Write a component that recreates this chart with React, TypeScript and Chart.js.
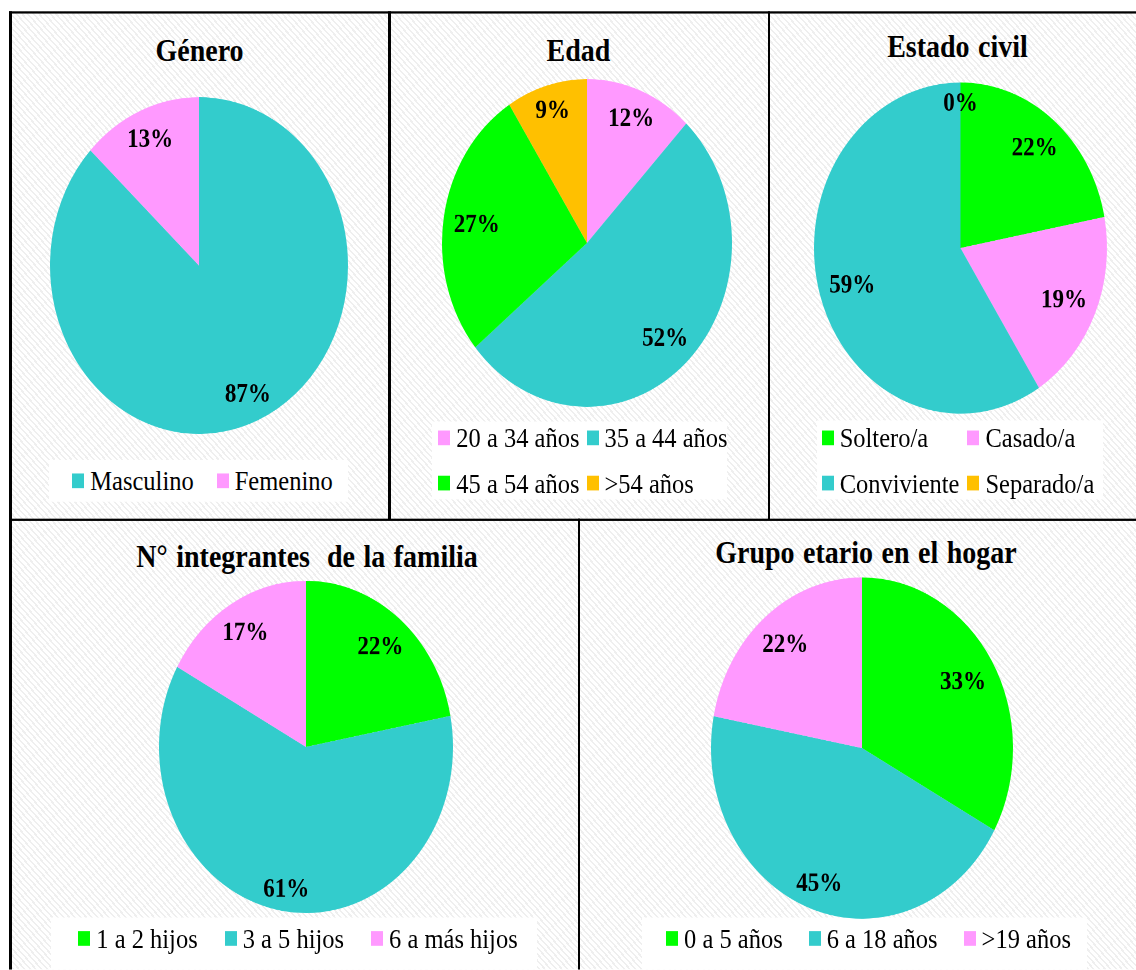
import { useEffect, useRef } from 'react'
import { Chart, PieController, ArcElement } from 'chart.js'

Chart.register(PieController, ArcElement)

// the whole figure is stretched vertically, like the source picture
const STRETCH = 1.13
const FONT = '"Liberation Serif", "Times New Roman", serif'
const PCT_SIZE = 23
const PAD = 6

const CYAN = '#33CCCC'
const PINK = '#FF99FF'
const GREEN = '#00FF00'
const ORANGE = '#FFC000'

const GENERO_LABELS = ['Masculino', 'Femenino']
const GENERO_VALUES = [87, 13]
const GENERO_COLORS = [CYAN, PINK]

const EDAD_LABELS = ['20 a 34 años', '35 a 44 años', '45 a 54 años', '>54 años']
const EDAD_VALUES = [12, 52, 27, 9]
const EDAD_COLORS = [PINK, CYAN, GREEN, ORANGE]

const CIVIL_LABELS = ['Soltero/a', 'Casado/a', 'Conviviente', 'Separado/a']
const CIVIL_VALUES = [22, 19, 59, 0]
const CIVIL_COLORS = [GREEN, PINK, CYAN, ORANGE]

const FAMILIA_LABELS = ['1 a 2 hijos', '3 a 5 hijos', '6 a más hijos']
const FAMILIA_VALUES = [22, 61, 17]
const FAMILIA_COLORS = [GREEN, CYAN, PINK]

const HOGAR_LABELS = ['0 a 5 años', '6 a 18 años', '>19 años']
const HOGAR_VALUES = [33, 45, 22]
const HOGAR_COLORS = [GREEN, CYAN, PINK]

/** Percent labels placed inside the outer edge of each slice. */
const pctLabels = {
  id: 'pctLabels',
  afterDatasetsDraw(chart: any) {
    const { ctx } = chart
    const meta = chart.getDatasetMeta(0)
    const values = chart.data.datasets[0].data as number[]
    ctx.save()
    ctx.font = `bold ${PCT_SIZE}px ${FONT}`
    ctx.fillStyle = '#000'
    ctx.textAlign = 'center'
    ctx.textBaseline = 'alphabetic'
    meta.data.forEach((arc: any, i: number) => {
      const { x, y, startAngle, endAngle, outerRadius } = arc.getProps(
        ['x', 'y', 'startAngle', 'endAngle', 'outerRadius'],
        true,
      )
      const a = (startAngle + endAngle) / 2
      const text = `${values[i]}%`
      const hw = ctx.measureText(text).width / 2
      const hh = PCT_SIZE * 0.34
      const dist = outerRadius * 0.935 - Math.abs(Math.cos(a)) * hw - Math.abs(Math.sin(a)) * hh
      ctx.fillText(text, x + Math.cos(a) * dist, y + Math.sin(a) * dist + hh)
    })
    ctx.restore()
  },
}

interface PieProps {
  labels: string[]
  values: number[]
  colors: string[]
  cx: number
  cy: number
  d: number
}

function PieCanvas({ labels, values, colors, cx, cy, d }: PieProps) {
  const canvasRef = useRef<HTMLCanvasElement>(null)

  useEffect(() => {
    const el = canvasRef.current
    if (!el) return
    const chart = new Chart(el, {
      type: 'pie',
      data: {
        labels,
        datasets: [{ data: values, backgroundColor: colors, borderWidth: 0 }],
      },
      options: {
        animation: false,
        responsive: true,
        maintainAspectRatio: false,
        devicePixelRatio: 2,
        events: [],
        layout: { padding: PAD },
      },
      plugins: [pctLabels],
    })
    return () => chart.destroy()
  }, [labels, values, colors])

  return (
    <div
      style={{
        position: 'absolute',
        left: cx - d / 2 - PAD,
        top: cy - d / 2 - PAD,
        width: d + PAD * 2,
        height: d + PAD * 2,
      }}
    >
      <canvas ref={canvasRef} />
    </div>
  )
}

function Title({ text, cx, baseline }: { text: string; cx: number; baseline: number }) {
  return (
    <div
      style={{
        position: 'absolute',
        left: cx - 300,
        width: 600,
        top: baseline - 23.45,
        textAlign: 'center',
        font: `bold 28px ${FONT}`,
        lineHeight: '28px',
        whiteSpace: 'pre',
        wordSpacing: 1.5,
        color: '#000',
      }}
    >
      {text}
    </div>
  )
}

interface LegendProps {
  labels: string[]
  colors: string[]
  cx: number
  baseline: number
  cols: number
  gap: number
}

function HtmlLegend({ labels, colors, cx, baseline, cols, gap }: LegendProps) {
  return (
    <div
      style={{
        position: 'absolute',
        left: cx - 300,
        width: 600,
        top: baseline - 28.2,
        display: 'flex',
        justifyContent: 'center',
      }}
    >
      <div
        style={{
          display: 'grid',
          gridTemplateColumns: `repeat(${cols}, auto)`,
          columnGap: gap,
          font: `24.5px ${FONT}`,
          lineHeight: '39.8px',
          color: '#000',
        }}
      >
        {labels.map((l, i) => (
          <div key={l} style={{ whiteSpace: 'nowrap' }}>
            <span
              style={{
                display: 'inline-block',
                width: 12,
                height: 13,
                marginRight: 6,
                marginBottom: 2,
                verticalAlign: 'baseline',
                background: colors[i],
              }}
            />
            {l}
          </div>
        ))}
      </div>
    </div>
  )
}

function WhiteBox({ x0, x1, y0, y1 }: { x0: number; x1: number; y0: number; y1: number }) {
  return (
    <div
      style={{
        position: 'absolute',
        left: x0,
        width: x1 - x0,
        top: y0 / STRETCH,
        height: (y1 - y0) / STRETCH,
        background: '#fff',
      }}
    />
  )
}

function Line({ x, y, w, h }: { x: number; y: number; w: number; h: number }) {
  return <div style={{ position: 'absolute', left: x, top: y, width: w, height: h, background: '#000' }} />
}

const u = (yRef: number) => yRef / STRETCH

export default function App() {
  const H = 970 / STRETCH
  return (
    <div
      style={{
        position: 'fixed',
        left: 0,
        top: 0,
        width: 1136,
        height: H,
        overflow: 'hidden',
        background: '#fff',
        transform: `scaleY(${STRETCH})`,
        transformOrigin: '0 0',
      }}
    >
      <div
        style={{
          position: 'absolute',
          left: 9.3,
          top: 9.65,
          right: 0,
          bottom: 0,
          background: 'repeating-linear-gradient(45deg, #ffffff 0px, #ffffff 2.5px, #efefef 2.5px, #efefef 4px)',
        }}
      />

      <WhiteBox x0={49} x1={348} y0={460} y1={502} />
      <WhiteBox x0={432} x1={727} y0={422} y1={500} />
      <WhiteBox x0={817} x1={1103} y0={420} y1={500} />
      <WhiteBox x0={51} x1={537} y0={918} y1={980} />
      <WhiteBox x0={642} x1={1087} y0={918} y1={980} />

      <Title text="Género" cx={199.5} baseline={u(61)} />
      <Title text="Edad" cx={578.5} baseline={u(61)} />
      <Title text="Estado civil" cx={957.5} baseline={u(57)} />
      <Title text="N° integrantes  de la familia" cx={307} baseline={u(568)} />
      <Title text="Grupo etario en el hogar" cx={866} baseline={u(563)} />

      <PieCanvas labels={GENERO_LABELS} values={GENERO_VALUES} colors={GENERO_COLORS} cx={199} cy={u(266)} d={298} />
      <PieCanvas labels={EDAD_LABELS} values={EDAD_VALUES} colors={EDAD_COLORS} cx={587} cy={u(243)} d={290} />
      <PieCanvas labels={CIVIL_LABELS} values={CIVIL_VALUES} colors={CIVIL_COLORS} cx={960.5} cy={u(248.5)} d={293} />
      <PieCanvas labels={FAMILIA_LABELS} values={FAMILIA_VALUES} colors={FAMILIA_COLORS} cx={306} cy={u(746.5)} d={294} />
      <PieCanvas labels={HOGAR_LABELS} values={HOGAR_VALUES} colors={HOGAR_COLORS} cx={862} cy={u(748.5)} d={302} />

      <HtmlLegend labels={GENERO_LABELS} colors={GENERO_COLORS} cx={202.5} baseline={u(491)} cols={2} gap={23} />
      <HtmlLegend labels={EDAD_LABELS} colors={EDAD_COLORS} cx={583} baseline={u(448)} cols={2} gap={7} />
      <HtmlLegend labels={CIVIL_LABELS} colors={CIVIL_COLORS} cx={958} baseline={u(448)} cols={2} gap={8} />
      <HtmlLegend labels={FAMILIA_LABELS} colors={FAMILIA_COLORS} cx={298} baseline={u(948)} cols={3} gap={27} />
      <HtmlLegend labels={HOGAR_LABELS} colors={HOGAR_COLORS} cx={868.5} baseline={u(948)} cols={3} gap={26} />

      {/* frame */}
      <Line x={9.3} y={9.65} w={1136} h={2.3} />
      <Line x={9.3} y={458.75} w={1136} h={2.3} />
      <Line x={9.3} y={9.65} w={2.6} h={H} />
      <Line x={388.2} y={9.65} w={2.6} h={450} />
      <Line x={767.7} y={9.65} w={2.6} h={450} />
      <Line x={577.7} y={459} w={2.6} h={H} />
    </div>
  )
}
